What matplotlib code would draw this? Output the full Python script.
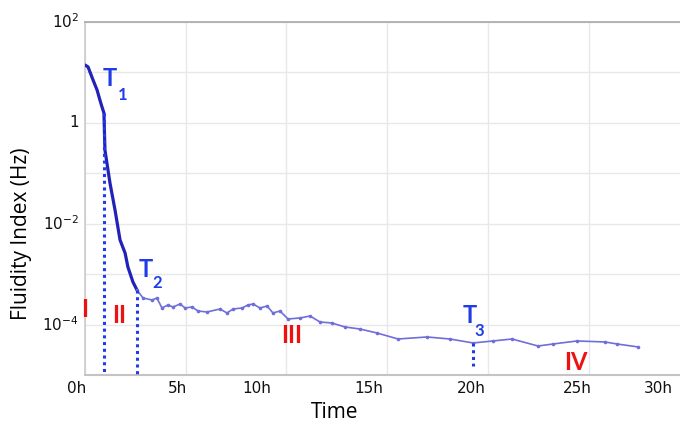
import numpy as np
import matplotlib
matplotlib.use("Agg")
import matplotlib.pyplot as plt
from matplotlib.transforms import blended_transform_factory

# ---------------- data ----------------
time_h = [0.00, 0.15, 0.40, 0.60, 0.74, 0.84, 0.94, 0.99, 1.24, 1.49, 1.74, 1.99, 2.13,
          2.38, 2.58, 2.88, 3.33, 3.57, 3.82, 4.12, 4.37, 4.72, 4.97, 5.31, 5.61, 6.06,
          6.70, 7.05, 7.35, 7.80, 8.09, 8.34, 8.69, 9.04, 9.33, 9.68, 10.08, 10.68, 11.17,
          11.67, 12.26, 12.91, 13.65, 14.50, 15.54, 16.98, 18.12, 19.27, 20.26, 21.20,
          22.49, 23.24, 24.43, 25.82, 26.42, 27.46]
log10_fi = [1.147, 1.110, 0.850, 0.650, 0.453, 0.320, 0.195, -0.538, -1.193, -1.728,
            -2.323, -2.581, -2.858, -3.156, -3.314, -3.473, -3.512, -3.473, -3.671, -3.612,
            -3.651, -3.592, -3.671, -3.651, -3.731, -3.750, -3.691, -3.770, -3.691, -3.671,
            -3.612, -3.592, -3.671, -3.632, -3.770, -3.731, -3.889, -3.869, -3.830, -3.949,
            -3.969, -4.048, -4.088, -4.167, -4.286, -4.246, -4.286, -4.365, -4.325, -4.286,
            -4.425, -4.385, -4.325, -4.345, -4.385, -4.444]

event_names = ["1", "2", "3"]
event_times = [0.94, 2.58, 19.27]
phase_labels = ["I", "II", "III", "IV"]

x_tick_text = ["0h", "5h", "10h", "15h", "20h", "25h", "30h"]
y_tick_vals = [1e2, 1e0, 1e-2, 1e-4]
y_tick_text = ["$10^{2}$", "1", "$10^{-2}$", "$10^{-4}$"]

# ---------------- layout ----------------
x_tick_pos = [-0.40, 4.57, 8.54, 14.10, 19.17, 24.43, 28.45]
event_T_pos = [(1.24, 0.870), (3.00, -2.908), (19.09, -3.820)]
event_sub_pos = [(1.86, 0.552), (3.60, -3.176), (19.58, -4.128)]
t3_line_bottom = -4.82
phase_pos = [(0.0, -3.701), (1.71, -3.830), (10.25, -4.216), (24.38, -4.762)]

t = np.array(time_h)
fi = 10 ** np.array(log10_fi)

fig = plt.figure(figsize=(6.8, 4.29), dpi=100)
ax = fig.add_axes([85 / 680, 1 - 375 / 429, 595 / 680, 353 / 429])

ax.set_yscale("log")
ax.set_ylim(1e-5, 1e2)
ax.set_xlim(0, 29.54)

# grid
ax.set_xticks(np.arange(0, 30, 5))
ax.set_xticklabels([])
ax.set_yticks([10.0 ** k for k in range(-5, 3)])
ax.set_yticks([], minor=True)
ax.set_yticklabels([])
ax.grid(True, color="#e8e8e8", lw=1.0)
ax.tick_params(length=0)
ax.set_axisbelow(True)

ax.spines["right"].set_visible(False)
ax.spines["top"].set_color("#a8a8a8")
ax.spines["top"].set_linewidth(1.2)
ax.spines["left"].set_color("#cccccc")
ax.spines["left"].set_linewidth(1.2)
ax.spines["bottom"].set_color("#c4c4c4")
ax.spines["bottom"].set_linewidth(1.5)

# curve
split = t <= event_times[1]
ax.plot(t[split], fi[split], color="#2222b8", lw=2.3, solid_capstyle="round",
        solid_joinstyle="round", zorder=3)
tail = t >= event_times[1]
ax.plot(t[tail], fi[tail], color="#6f6fd8", lw=1.2, marker="o", ms=1.6, zorder=3)

# event markers
blue = "#1f3ce8"
for i, (name, te) in enumerate(zip(event_names, event_times)):
    yv = 10 ** np.interp(te, t, np.array(log10_fi))
    ybot = 1e-5 if i < 2 else 10 ** t3_line_bottom
    ax.plot([te, te], [yv, ybot], color=blue, lw=2.2, ls=(0, (1, 1.2)), zorder=4)
    tx, ty = event_T_pos[i]
    ax.text(tx, 10 ** ty, "T", color=blue, fontsize=17, fontweight="bold",
            family="Lato", ha="center", va="center")
    sx, sy = event_sub_pos[i]
    ax.text(sx, 10 ** sy, name, color=blue, fontsize=12, fontweight="bold",
            family="Lato", ha="center", va="center")

# phase labels
for lab, (px, py) in zip(phase_labels, phase_pos):
    ax.text(px, 10 ** py, lab, color="#ee1111", fontsize=17, fontweight="bold",
            family="Lato", ha="center", va="center", clip_on=False)

# tick labels
trans = blended_transform_factory(ax.transData, ax.transAxes)
for lab, xp in zip(x_tick_text, x_tick_pos):
    ax.text(xp, -0.037, lab, transform=trans, ha="center", va="center",
            fontsize=11, color="#111111")
trans_y = blended_transform_factory(ax.transAxes, ax.transData)
for v, lab in zip(y_tick_vals, y_tick_text):
    ax.text(-0.01, v, lab, transform=trans_y, ha="right", va="center",
            fontsize=11, color="#111111")

fig.text(335 / 680, 1 - 413 / 429, "Time", ha="center", va="center",
         fontsize=15, family="Open Sans")
fig.text(22 / 680, 1 - 234 / 429, "Fluidity Index (Hz)", ha="center", va="center",
         rotation=90, fontsize=15, family="Open Sans")

fig.savefig("out.png", dpi=100)
